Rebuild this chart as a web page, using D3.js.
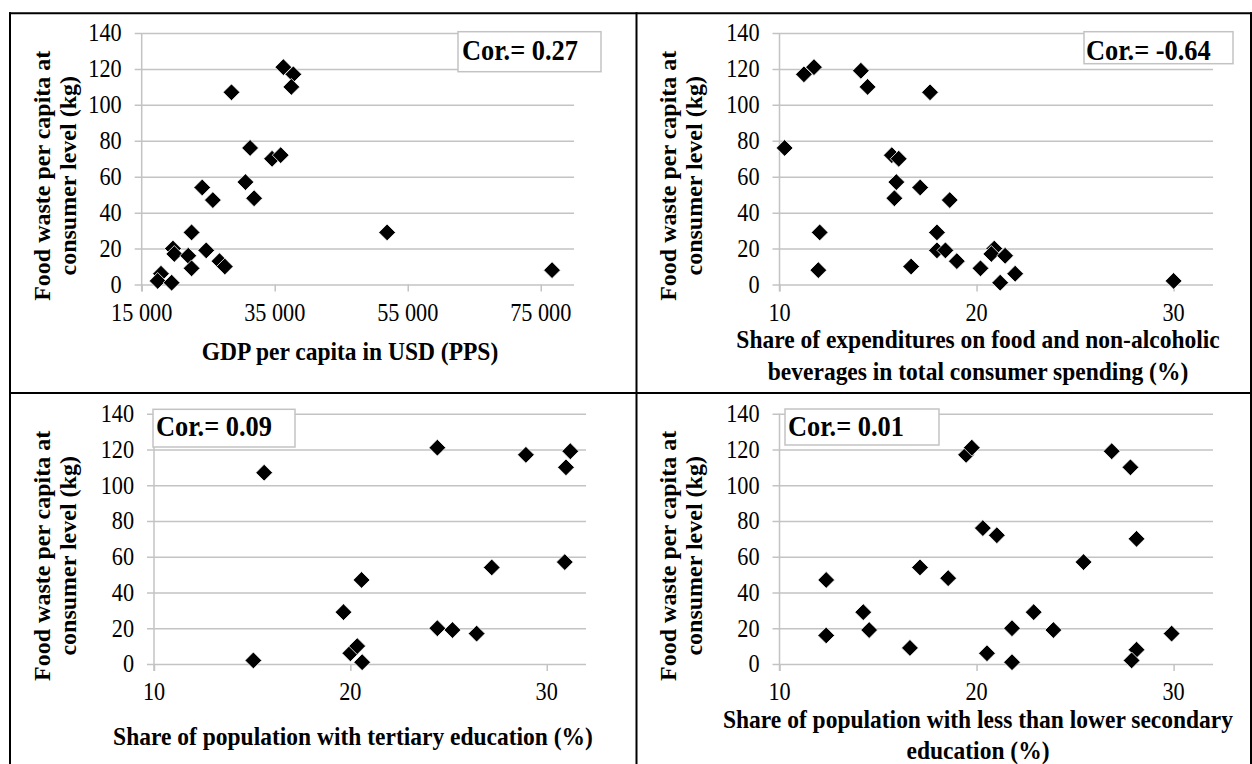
<!DOCTYPE html>
<html>
<head>
<meta charset="utf-8">
<script src="https://cdn.jsdelivr.net/npm/d3@7"></script>
<style>
  html, body { margin: 0; padding: 0; background: #fff; }
  svg { display: block; }
</style>
</head>
<body>
<svg id="chart" width="1252" height="764"></svg>
<script>
// Food waste per capita at consumer level (kg) against four country indicators

// Panel 1: GDP per capita in USD (PPS)
const gdpPerCapita = [36300, 37800, 37500, 28500, 31300, 34600, 35900, 30600, 31900, 24100, 25700,
  22500, 19700, 19900, 22000, 22500, 24700, 26700, 27500, 17900, 17400, 19500, 51900, 76700];
const wasteByGdp = [121, 117, 110, 107, 76, 70, 72, 57, 48, 54, 47,
  29, 20, 17, 16, 9, 19, 13, 10, 6, 2, 1, 29, 8];

// Panel 2: share of food and non-alcoholic beverages in consumer spending (%)
const foodShare = [10.26, 11.24, 11.75, 14.13, 14.47, 17.64, 15.7, 16.05, 15.93, 17.14, 15.83, 18.64,
  12.04, 17.99, 17.99, 18.42, 19.0, 16.68, 11.97, 20.2, 20.9, 20.75, 21.45, 21.96, 21.2, 30.0];
const wasteByFood = [76, 117, 121, 119, 110, 107, 72, 70, 57, 54, 48, 47,
  29, 29, 19, 19, 13, 10, 8, 9, 20, 17, 16, 6, 1, 2];

// Panel 3: share of population with tertiary education (%)
const tertiaryShare = [15.06, 15.61, 19.65, 20.0, 20.35, 20.6, 20.57, 24.43, 24.43, 25.2, 26.43,
  27.2, 28.94, 31.2, 30.98, 30.92];
const wasteByTertiary = [2, 107, 29, 6, 10, 1, 47, 121, 20, 19, 17,
  54, 117, 119, 110, 57];

// Panel 4: share of population with less than lower secondary education (%)
const lowSecondaryShare = [12.37, 12.37, 14.25, 14.55, 16.62, 17.13, 18.56, 19.47, 19.76, 20.32, 21.03,
  20.53, 21.8, 21.8, 22.9, 23.9, 25.43, 26.86, 27.81, 28.12, 28.12, 27.87, 29.9];
const wasteByLowSecondary = [47, 16, 29, 19, 9, 54, 48, 117, 121, 76, 72,
  6, 1, 20, 29, 19, 57, 119, 110, 70, 8, 2, 17];

// Correlation coefficients shown in each panel
const correlations = ["0.27", "-0.64", "0.09", "0.01"];

// Axis ticks
const wasteTicks = [0, 20, 40, 60, 80, 100, 120, 140];
const gdpTicks = [15000, 35000, 55000, 75000];
const shareTicks = [10, 20, 30];

// Axis titles
const yTitleLines = ["Food waste per capita at", "consumer level (kg)"];
const xTitles = [
  ["GDP per capita in USD (PPS)"],
  ["Share of expenditures on food and non-alcoholic", "beverages in total consumer spending (%)"],
  ["Share of population with tertiary education (%)"],
  ["Share of population with less than lower secondary", "education (%)"]
];

const FONT = '"Liberation Serif", Tinos, "Times New Roman", "DejaVu Serif", serif';
const spaceLocale = d3.formatLocale({ decimal: ".", thousands: " ", grouping: [3], currency: ["", ""] });
const fmtGdp = spaceLocale.format(",d");
const fmtShare = d3.format("d");

const svg = d3.select("#chart").attr("font-family", FONT);
const GRID = "#c3c3c3";
const TICK_LEN = 7;

// layout of the four panels
const panels = [
  { xs: gdpPerCapita, ys: wasteByGdp, xDomain: [15000, 80000], xTicks: gdpTicks, fmt: fmtGdp,
    xRange: [141.7, 574], yRange: [284.5, 33], titleX: 350, titleY: [360],
    yTitleX: 50, box: { x: 458, y: 31.7, w: 143, h: 40, tx: 462, ty: 59.5 } },
  { xs: foodShare, ys: wasteByFood, xDomain: [10, 32], xTicks: shareTicks, fmt: fmtShare,
    xRange: [779.5, 1213], yRange: [284.5, 33], titleX: 978, titleY: [348, 380],
    yTitleX: 676, box: { x: 1084, y: 31.7, w: 149, h: 32, tx: 1086, ty: 60 } },
  { xs: tertiaryShare, ys: wasteByTertiary, xDomain: [10, 32], xTicks: shareTicks, fmt: fmtShare,
    xRange: [154, 586], yRange: [664, 413.7], titleX: 353, titleY: [745],
    yTitleX: 50, box: { x: 153, y: 409.3, w: 142, h: 37.7, tx: 156, ty: 435.5 } },
  { xs: lowSecondaryShare, ys: wasteByLowSecondary, xDomain: [10, 32], xTicks: shareTicks, fmt: fmtShare,
    xRange: [779.5, 1213], yRange: [664, 413.7], titleX: 978, titleY: [728, 759],
    yTitleX: 676, box: { x: 785, y: 409, w: 154, h: 36, tx: 788, ty: 435.5 } }
];

// text drawn with slightly narrowed letterforms
function squeezedText(g, x, y, str, size, weight, anchor, squeeze) {
  return g.append("text")
    .attr("transform", `translate(${x},${y}) scale(${squeeze},1)`)
    .attr("text-anchor", anchor)
    .attr("font-family", FONT)
    .style("font-size", size + "px")
    .style("font-weight", weight)
    .attr("fill", "#000")
    .text(str);
}

const diamond = r => `M0,${-r}L${r},0L0,${r}L${-r},0Z`;

panels.forEach((p, i) => {
  const g = svg.append("g");
  const x = d3.scaleLinear().domain(p.xDomain).range(p.xRange);
  const y = d3.scaleLinear().domain([0, 140]).range(p.yRange);
  const x0 = p.xRange[0], x1 = p.xRange[1];
  const yBottom = y(0);

  // horizontal gridlines with outside tick marks on the value axis
  const yAxis = d3.axisLeft(y).tickValues(wasteTicks).tickSize(-(x1 - x0 + TICK_LEN)).tickPadding(0).tickFormat("");
  const gy = g.append("g").attr("transform", `translate(${x0 - TICK_LEN},0)`).call(yAxis);
  gy.select(".domain").remove();
  gy.selectAll(".tick line").attr("stroke", GRID).attr("stroke-width", 1.5);

  // vertical axis line
  g.append("line").attr("x1", x0).attr("x2", x0).attr("y1", y(140)).attr("y2", yBottom + TICK_LEN)
    .attr("stroke", GRID).attr("stroke-width", 1.5);

  // x ticks
  const xAxis = d3.axisBottom(x).tickValues(p.xTicks).tickSize(TICK_LEN).tickFormat("");
  const gx = g.append("g").attr("transform", `translate(0,${yBottom})`).call(xAxis);
  gx.select(".domain").remove();
  gx.selectAll(".tick line").attr("stroke", GRID).attr("stroke-width", 1.5);

  // y tick labels
  wasteTicks.forEach(t => {
    squeezedText(g, x0 - 20, y(t) + 8.3, String(t), 25, "normal", "end", 0.89);
  });
  // x tick labels
  p.xTicks.forEach(t => {
    squeezedText(g, x(t), yBottom + 36, p.fmt(t), 25, "normal", "middle", 0.89);
  });

  // markers
  g.append("g").selectAll("path")
    .data(p.xs.map((v, k) => [v, p.ys[k]]))
    .join("path")
    .attr("transform", d => `translate(${x(d[0])},${y(d[1])})`)
    .attr("d", diamond(8.4))
    .attr("fill", "#000")
    .attr("stroke", "#fff")
    .attr("stroke-width", 0.8);

  // y axis title (two rotated lines)
  const cy = (y(0) + y(140)) / 2 + 17;
  yTitleLines.forEach((line, k) => {
    g.append("text")
      .attr("transform", `translate(${p.yTitleX + k * 26},${cy}) rotate(-90)`)
      .attr("text-anchor", "middle")
      .attr("font-family", FONT)
      .style("font-size", "24px")
      .style("font-weight", "bold")
      .text(line);
  });

  // x axis title
  xTitles[i].forEach((line, k) => {
    squeezedText(g, p.titleX, p.titleY[k], line, 25, "bold", "middle", 0.94);
  });

  // correlation box
  g.append("rect").attr("x", p.box.x).attr("y", p.box.y).attr("width", p.box.w).attr("height", p.box.h)
    .attr("fill", "#fff").attr("stroke", GRID).attr("stroke-width", 1.5);
  squeezedText(g, p.box.tx, p.box.ty, "Cor.= " + correlations[i], 30, "bold", "start", 0.88);
});

// table frame around the four panels
const frame = svg.append("g").attr("stroke", "#000").attr("stroke-width", 2);
frame.append("line").attr("x1", 9).attr("x2", 1252).attr("y1", 13.3).attr("y2", 13.3);
frame.append("line").attr("x1", 10).attr("x2", 10).attr("y1", 12.3).attr("y2", 764);
frame.append("line").attr("x1", 636.5).attr("x2", 636.5).attr("y1", 12.3).attr("y2", 764);
frame.append("line").attr("x1", 9).attr("x2", 1252).attr("y1", 393).attr("y2", 393);
frame.append("line").attr("x1", 1251).attr("x2", 1251).attr("y1", 12.3).attr("y2", 764);
</script>
</body>
</html>
